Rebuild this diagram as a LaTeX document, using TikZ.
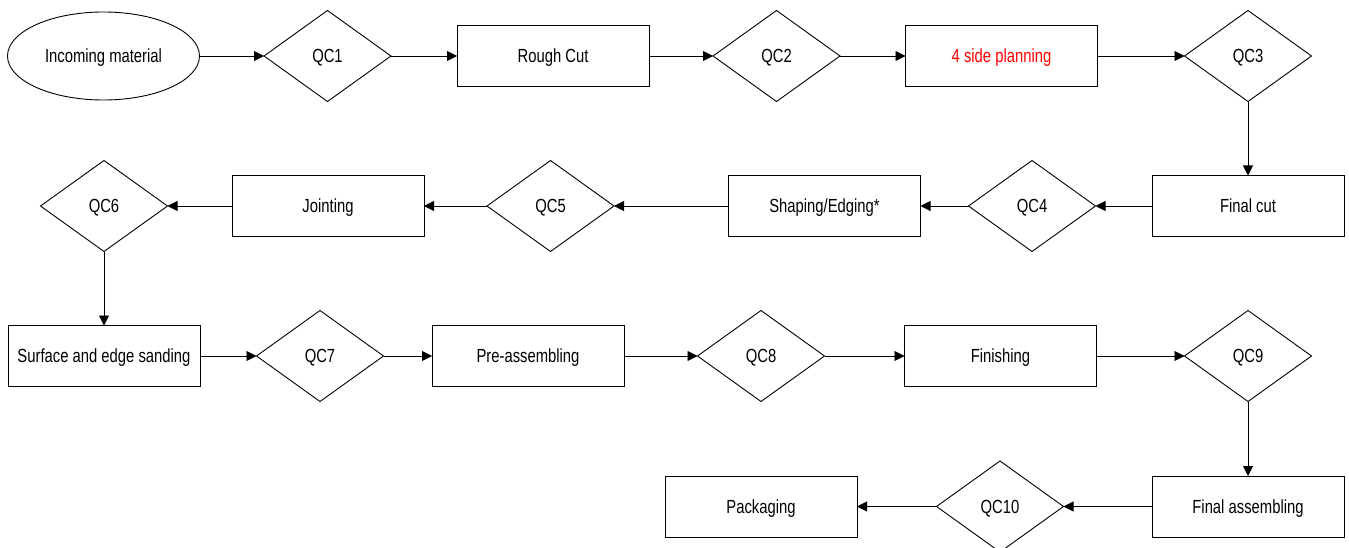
\documentclass[tikz,border=0pt]{standalone}
\usepackage{fontspec}
\setmainfont[FakeStretch=0.78]{Liberation Sans}
\usepackage{tikz}
\usetikzlibrary{shapes.geometric,arrows.meta}
\tikzset{
	stepbox/.style={draw, rectangle, line width=0.9pt, minimum width=192pt, minimum height=61pt, inner sep=0pt, outer sep=0pt, text depth=0pt},
	qcbox/.style={draw, diamond, line width=0.9pt, minimum width=127pt, minimum height=91pt, inner sep=0pt, outer sep=0pt, text depth=0pt},
	startbox/.style={draw, ellipse, line width=0.9pt, minimum width=192pt, minimum height=88pt, inner sep=0pt, outer sep=0pt, text depth=0pt},
	flow/.style={line width=0.9pt, -{Triangle[length=10pt,width=10pt]}}
}

\begin{document}
\begin{tikzpicture}[x=1pt, y=-1pt, font=\fontsize{19}{21}\selectfont]
		%%%%% START %%%%%
		\useasboundingbox (0, 0) rectangle (1349, 548);
		
		\node[startbox] (incoming) at (103.5, 56) {Incoming material};
		\node[qcbox] (qc1) at (327.5, 56) {QC1};
		\node[stepbox] (roughcut) at (553, 56) {Rough Cut};
		\node[qcbox] (qc2) at (776.5, 56) {QC2};
		\node[stepbox, text=red] (planning) at (1001.5, 56) {4 side planning};
		\node[qcbox] (qc3) at (1248, 56) {QC3};
		
		\node[stepbox] (finalcut) at (1248, 206) {Final cut};
		\node[qcbox] (qc4) at (1032, 206) {QC4};
		\node[stepbox] (shaping) at (824.5, 206) {Shaping/Edging*};
		\node[qcbox] (qc5) at (550.5, 206) {QC5};
		\node[stepbox] (jointing) at (328, 206) {Jointing};
		\node[qcbox] (qc6) at (104, 206) {QC6};
		
		\node[stepbox] (sanding) at (104, 356) {Surface and edge sanding};
		\node[qcbox] (qc7) at (320, 356) {QC7};
		\node[stepbox] (preassembling) at (528, 356) {Pre-assembling};
		\node[qcbox] (qc8) at (761, 356) {QC8};
		\node[stepbox] (finishing) at (1000.5, 356) {Finishing};
		\node[qcbox] (qc9) at (1248, 356) {QC9};
		
		\node[stepbox] (finalassembling) at (1248, 506.5) {Final assembling};
		\node[qcbox] (qc10) at (1000, 506.5) {QC10};
		\node[stepbox] (packaging) at (761, 506.5) {Packaging};
		
		\draw[flow] (incoming) -- (qc1);
		\draw[flow] (qc1) -- (roughcut);
		\draw[flow] (roughcut) -- (qc2);
		\draw[flow] (qc2) -- (planning);
		\draw[flow] (planning) -- (qc3);
		\draw[flow] (qc3) -- (finalcut);
		
		\draw[flow] (finalcut) -- (qc4);
		\draw[flow] (qc4) -- (shaping);
		\draw[flow] (shaping) -- (qc5);
		\draw[flow] (qc5) -- (jointing);
		\draw[flow] (jointing) -- (qc6);
		\draw[flow] (qc6) -- (sanding);
		
		\draw[flow] (sanding) -- (qc7);
		\draw[flow] (qc7) -- (preassembling);
		\draw[flow] (preassembling) -- (qc8);
		\draw[flow] (qc8) -- (finishing);
		\draw[flow] (finishing) -- (qc9);
		\draw[flow] (qc9) -- (finalassembling);
		
		\draw[flow] (finalassembling) -- (qc10);
		\draw[flow] (qc10) -- (packaging);
		
		%%%%% END %%%%%
	\end{tikzpicture}
\end{document}
